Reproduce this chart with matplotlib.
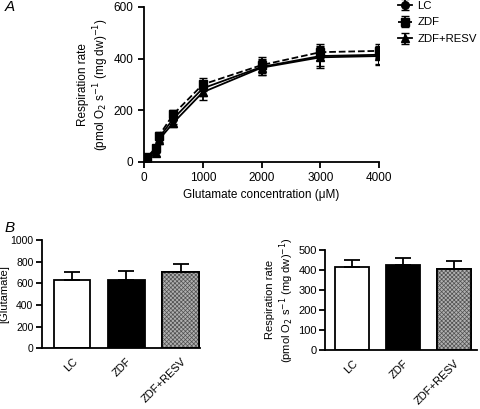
import matplotlib
matplotlib.use('Agg')
import matplotlib.pyplot as plt
import numpy as np

plt.rcParams['font.family'] = ['Liberation Sans', 'DejaVu Sans']
plt.rcParams['font.size'] = 8.5
plt.rcParams['axes.linewidth'] = 1.3
plt.rcParams['hatch.linewidth'] = 0.5

# Panel A: glutamate titration
conc = [0, 50, 200, 250, 500, 1000, 2000, 3000, 4000]
lc_mean = [0, 15, 45, 92, 168, 285, 368, 410, 415]
lc_err = [5, 8, 12, 15, 20, 30, 30, 40, 35]
zdf_mean = [0, 18, 55, 100, 185, 300, 375, 425, 430]
zdf_err = [5, 8, 12, 15, 18, 25, 30, 30, 28]
resv_mean = [0, 12, 35, 85, 152, 270, 365, 405, 410]
resv_err = [5, 8, 10, 15, 15, 30, 28, 40, 35]

# Panel B: bars
groups = ['LC', 'ZDF', 'ZDF+RESV']
glu_mean = [635, 635, 700]
glu_err = [70, 80, 75]
resp_mean = [416, 426, 405]
resp_err = [32, 35, 39]

fig = plt.figure(figsize=(4.8, 4.09), dpi=100)

ylab = 'Respiration rate\n(pmol O$_2$ s$^{-1}$ (mg dw)$^{-1}$)'

ax = fig.add_axes([0.30, 0.604, 0.49, 0.379])
ax.errorbar(conc, lc_mean, yerr=lc_err, color='black', marker='o', ms=5.5, lw=1.3,
            capsize=3, elinewidth=1.3, label='LC')
ax.errorbar(conc, zdf_mean, yerr=zdf_err, color='black', marker='s', ms=5.5, lw=1.3,
            ls='--', capsize=3, elinewidth=1.3, label='ZDF')
ax.errorbar(conc, resv_mean, yerr=resv_err, color='black', marker='^', ms=5.5, lw=1.3,
            capsize=3, elinewidth=1.3, label='ZDF+RESV')
ax.set_xlim(0, 4000)
ax.set_ylim(0, 600)
ax.set_xticks([0, 1000, 2000, 3000, 4000])
ax.set_yticks([0, 200, 400, 600])
ax.spines['top'].set_visible(False)
ax.spines['right'].set_visible(False)
ax.tick_params(direction='out', length=4, width=1.3)
ax.set_xlabel('Glutamate concentration (\u03bcM)', labelpad=3)
ax.set_ylabel(ylab, labelpad=2)
ax.legend(loc='upper left', bbox_to_anchor=(1.06, 1.07), frameon=False,
          handlelength=1.2, handletextpad=0.5, labelspacing=0.6, fontsize=8.2,
          borderaxespad=0)
fig.text(0.01, 0.972, 'A', fontsize=11, style='italic')

colors = ['white', 'black', '#b0b0b0']
x = np.arange(len(groups))


def bar_panel(rect, means, errs, ylim, yticks, ylabel, xlim, tsize):
    bx = fig.add_axes(rect)
    bx.bar(x, means, width=0.67, color=colors, edgecolor='black', lw=1.3)
    # textured grey fill for the resveratrol bar
    bx.bar(x[2], means[2], width=0.67, color=colors[2], edgecolor='#505050',
           hatch='xxxxxxxx', lw=0)
    bx.bar(x[2], means[2], width=0.67, fill=False, edgecolor='black', lw=1.3)
    bx.errorbar(x, means, yerr=[np.zeros(len(errs)), errs], fmt='none', ecolor='black',
                elinewidth=1.3, capsize=6, capthick=1.3)
    bx.set_xlim(*xlim)
    bx.set_ylim(*ylim)
    bx.set_yticks(yticks)
    bx.set_xticks(x)
    bx.set_xticklabels(groups, rotation=45, ha='right', rotation_mode='anchor')
    bx.spines['top'].set_visible(False)
    bx.spines['right'].set_visible(False)
    bx.tick_params(direction='out', length=4, width=1.3)
    bx.tick_params(axis='y', labelsize=tsize, pad=2)
    bx.tick_params(axis='x', length=0, pad=6, labelsize=8)
    bx.set_ylabel(ylabel, labelpad=1.5, fontsize=8)
    return bx


bl = bar_panel([0.087, 0.1484, 0.33, 0.2648], glu_mean, glu_err, (0, 1000),
               [0, 200, 400, 600, 800, 1000], '[Glutamate]', (-0.56, 2.36), 7.5)
bl.yaxis.set_label_coords(-0.205, 0.5)
bar_panel([0.677, 0.1443, 0.317, 0.2452], resp_mean, resp_err, (0, 500),
          [0, 100, 200, 300, 400, 500], ylab, (-0.54, 2.45), 8)
fig.text(0.01, 0.433, 'B', fontsize=11, style='italic')

fig.savefig('out.png', dpi=100)
